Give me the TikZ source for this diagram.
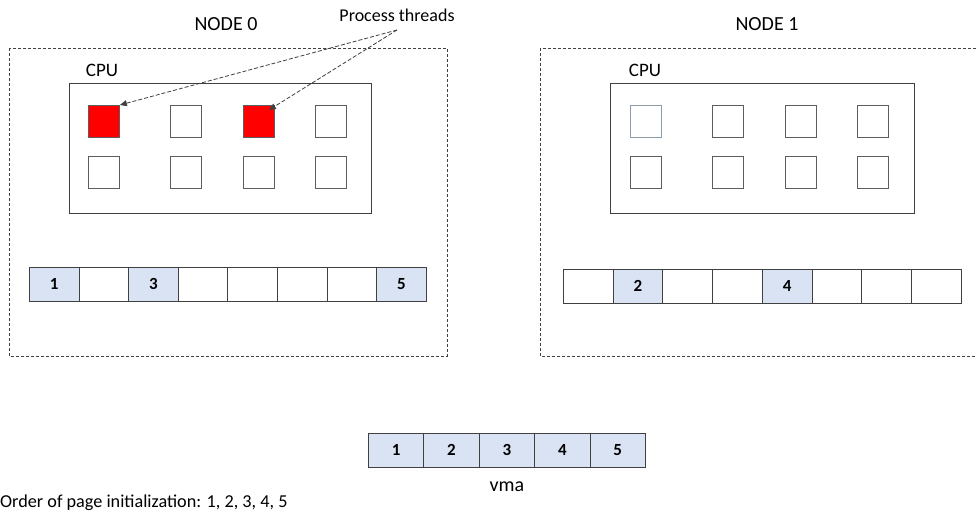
\documentclass[tikz,border=0pt]{standalone}
\usepackage{fontspec}
\setmainfont{Carlito}
\usetikzlibrary{arrows.meta}
\definecolor{pagefill}{HTML}{DAE3F3}
\definecolor{edge}{HTML}{404040}
\definecolor{pale}{HTML}{8C9CA8}
\tikzset{
  nodebox/.style={draw=edge, dashed, line width=0.8pt, dash pattern=on 3pt off 2pt},
  cpubox/.style={draw=edge, line width=0.9pt},
  core/.style={draw=edge!85, line width=0.9pt, minimum width=31pt, minimum height=32pt, inner sep=0pt, anchor=north west},
  busy/.style={core, fill=red},
  cell/.style={draw=edge, line width=0.9pt, minimum height=34pt, inner sep=0pt, anchor=north west,
               text height=11pt, text depth=0pt,
               font=\fontsize{17}{20}\selectfont\bfseries},
  used/.style={cell, fill=pagefill},
  title/.style={font=\fontsize{20}{24}\selectfont},
  label/.style={font=\fontsize{19}{22}\selectfont},
  ptr/.style={dashed, dash pattern=on 4pt off 2pt, line width=0.8pt, draw=edge,
              -{Triangle[length=7pt,width=6pt]}},
}
\begin{document}
\begin{tikzpicture}[x=1pt,y=-1pt]
\clip (0,0) rectangle (976,515);
\fill[white] (0,0) rectangle (976,515);

% NUMA node frames
\draw[nodebox] (9,48) rectangle (447,356);
\draw[nodebox] (540,48) rectangle (985,356);
\node[title] (n0) at (226,24) {NODE 0};
\node[title] (n1) at (767,24) {NODE 1};

% CPUs
\draw[cpubox] (69,83) rectangle (371,213);
\draw[cpubox] (610,83) rectangle (914,213);
\node[label] (cpu0) at (102,70) {CPU};
\node[label] (cpu1) at (645,70) {CPU};

% cores of node 0
\node[busy] (a1) at (88,105) {};
\node[core] (a2) at (170,105) {};
\node[busy] (a3) at (243,105) {};
\node[core] (a4) at (315,105) {};
\node[core] (a5) at (88,156) {};
\node[core] (a6) at (170,156) {};
\node[core] (a7) at (243,156) {};
\node[core] (a8) at (315,156) {};

% cores of node 1
\node[core, draw=pale] (b1) at (630,105) {};
\node[core] (b2) at (712,105) {};
\node[core] (b3) at (785,105) {};
\node[core] (b4) at (857,105) {};
\node[core] (b5) at (630,156) {};
\node[core] (b6) at (712,156) {};
\node[core] (b7) at (785,156) {};
\node[core] (b8) at (857,156) {};

% process threads
\node[font=\fontsize{18}{21}\selectfont] (pt) at (397,15) {Process threads};
\coordinate (ptfoot) at (397,30);
\draw[ptr] (ptfoot) -- (a1.north east);
\draw[ptr] (ptfoot) -- ([xshift=-6pt,yshift=-5pt]a3.north east);

% memory of node 0
\foreach \i/\t/\s in {0/1/used,1//cell,2/3/used,3//cell,4//cell,5//cell,6//cell,7/5/used}
  \node[\s, minimum width=49.6pt] (m0c\i) at ({29+49.6*\i},267) {\t};

% memory of node 1
\foreach \i/\t/\s in {0//cell,1/2/used,2//cell,3//cell,4/4/used,5//cell,6//cell,7//cell}
  \node[\s, minimum width=49.7pt] (m1c\i) at ({563+49.7*\i},269) {\t};

% virtual memory area
\foreach \i in {1,...,5}
  \node[used, minimum width=55.4pt] (v\i) at ({368+55.4*(\i-1)},433) {\i};
\node[font=\fontsize{20}{24}\selectfont] (vma) at (v3.south |- 0,487) {vma};

\node[font=\fontsize{18.2}{22}\selectfont, anchor=base west, inner sep=0pt] (order) at (0,507)
  {Order of page initialization: 1, 2, 3, 4, 5};
\end{tikzpicture}
\end{document}
